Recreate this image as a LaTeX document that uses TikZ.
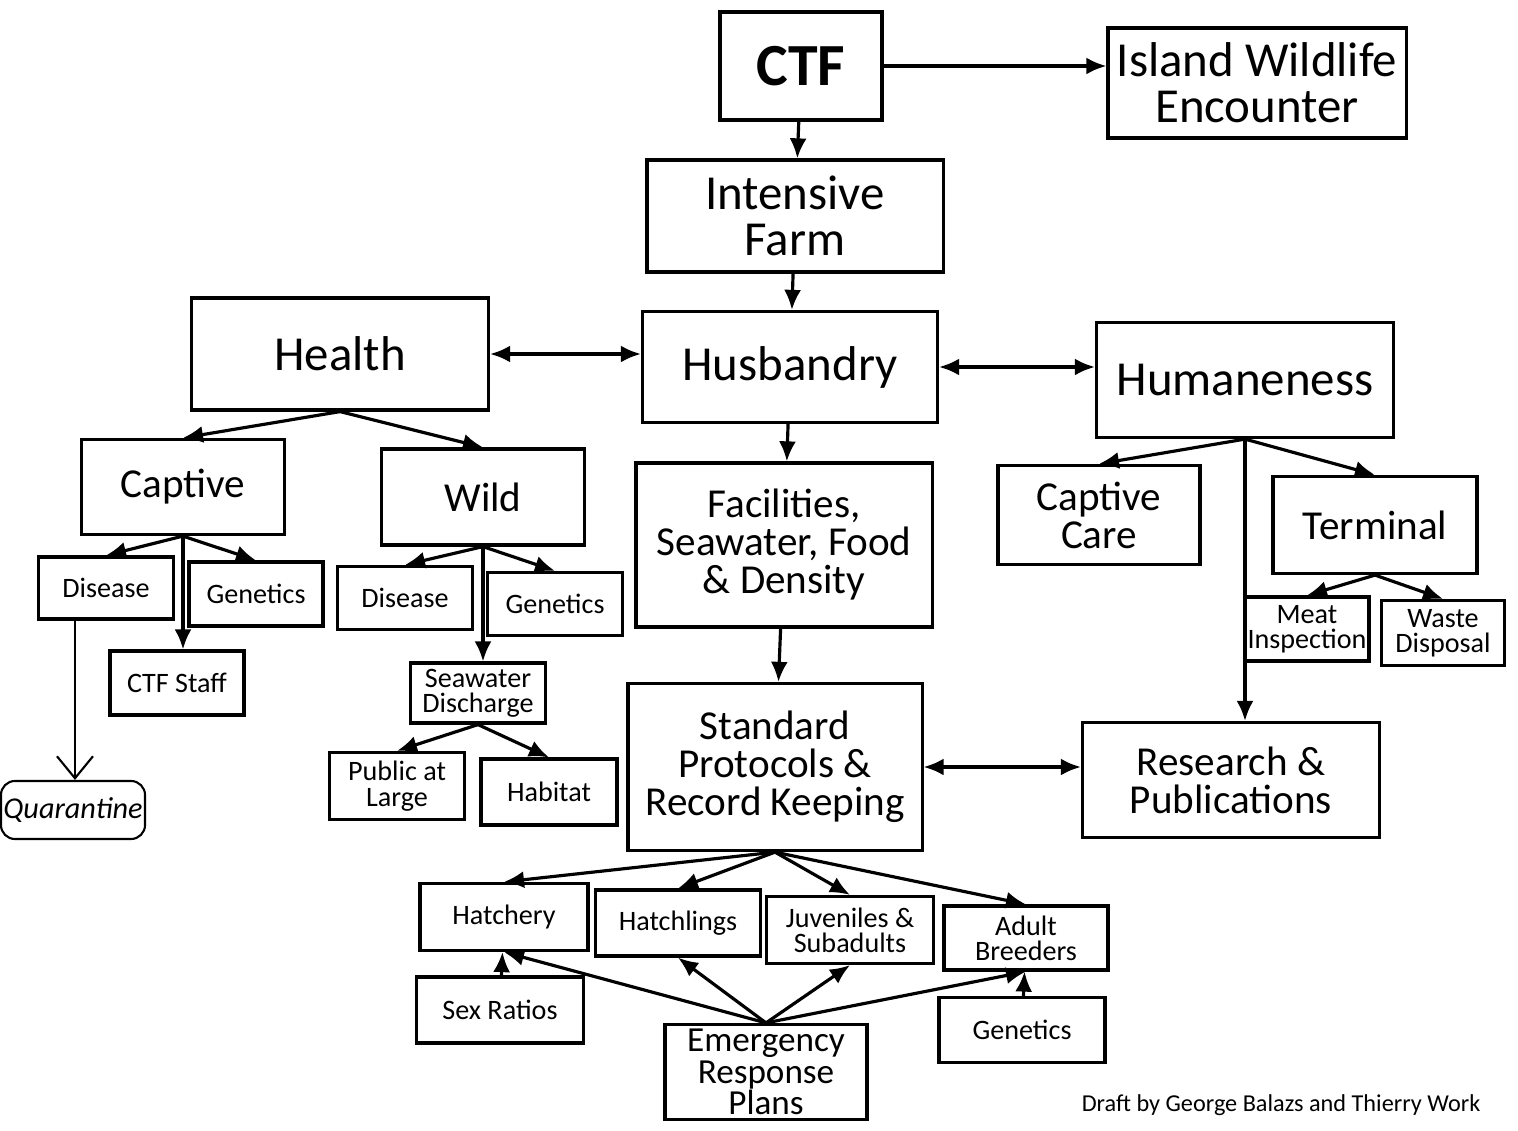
\documentclass[tikz,border=0pt]{standalone}
\usepackage{fontspec}
\setmainfont{Carlito}
\usetikzlibrary{shapes,arrows,arrows.meta,positioning}

\tikzset{
  box/.style={draw, line width=0.9pt, align=center, inner sep=0pt},
  bigtxt/.style={box, font=\fontsize{13.9}{13}\selectfont},
  midtxt/.style={box, font=\fontsize{11.7}{10.8}\selectfont},
  smalltxt/.style={box, font=\fontsize{8}{7.2}\selectfont},
  link/.style={->, line width=0.9pt},
  both/.style={<->, line width=0.9pt}
}

\begin{document}
\begin{tikzpicture}[x=0.01cm, y=-0.01cm, >={Latex[length=2mm, width=1.7mm]}]
\useasboundingbox (0,0) rectangle (1518,1131);
\fill[white] (0,0) rectangle (1518,1131);

% top of the chart
\node[box, font=\fontsize{17}{17}\selectfont\bfseries, minimum width=16.2mm, minimum height=10.8mm] (ctf) at (801,66) {CTF};
\node[bigtxt, minimum width=29.8mm, minimum height=11mm] (island) at (1257,83) {Island Wildlife\\Encounter};
\node[bigtxt, minimum width=29.6mm, minimum height=11.2mm] (farm) at (795,216) {Intensive\\Farm};
\node[bigtxt, minimum width=29.5mm, minimum height=11.1mm] (husbandry) at (790,367) {Husbandry};
\node[bigtxt, minimum width=29.7mm, minimum height=11.2mm] (health) at (340,354) {Health};
\node[bigtxt, minimum width=29.7mm, minimum height=11.5mm] (humane) at (1245,380) {Humaneness};

% health branch
\node[midtxt, minimum width=20.3mm, minimum height=9.5mm] (captive) at (183,487) {Captive};
\node[midtxt, minimum width=20.3mm, minimum height=9.6mm] (wild) at (483,497) {Wild};
\node[smalltxt, minimum width=13.5mm, minimum height=6.2mm] (disease1) at (106,588) {Disease};
\node[smalltxt, minimum width=13.4mm, minimum height=6.4mm] (genetics1) at (256,594) {Genetics};
\node[smalltxt, minimum width=13.4mm, minimum height=6.4mm] (ctfstaff) at (177,683) {CTF Staff};
\node[smalltxt, minimum width=13.5mm, minimum height=6.3mm] (disease2) at (405,598) {Disease};
\node[smalltxt, minimum width=13.5mm, minimum height=6.3mm] (genetics2) at (555,604) {Genetics};
\node[smalltxt, minimum width=13.5mm, minimum height=6mm] (seawater) at (478,693) {Seawater\\Discharge};
\node[smalltxt, minimum width=13.5mm, minimum height=6.7mm] (public) at (397,786) {Public at\\Large};
\node[smalltxt, minimum width=13.6mm, minimum height=6.6mm] (habitat) at (549,792) {Habitat};
\node[draw, rounded corners=4pt, line width=0.6pt, inner sep=0pt, font=\fontsize{8.6}{8.6}\selectfont\itshape, minimum width=14.4mm, minimum height=5.8mm] (quarantine) at (73,810) {Quarantine};

% husbandry branch
\node[midtxt, minimum width=29.6mm, minimum height=16.4mm] (facilities) at (784,545) {Facilities,\\Seawater, Food\\\& Density};
\node[midtxt, minimum width=29.4mm, minimum height=16.7mm] (standard) at (775,767) {Standard\\Protocols \&\\Record Keeping};
\node[smalltxt, minimum width=16.8mm, minimum height=6.7mm] (hatchery) at (504,917) {Hatchery};
\node[smalltxt, minimum width=16.5mm, minimum height=6.6mm] (hatchlings) at (678,923) {Hatchlings};
\node[smalltxt, minimum width=16.7mm, minimum height=6.7mm] (juveniles) at (850,930) {Juveniles \&\\Subadults};
\node[smalltxt, minimum width=16.4mm, minimum height=6.4mm] (adult) at (1026,938) {Adult\\Breeders};
\node[smalltxt, minimum width=16.7mm, minimum height=6.6mm] (sexratios) at (500,1010) {Sex Ratios};
\node[midtxt, font=\fontsize{10}{9}\selectfont, minimum width=20.2mm, minimum height=9.5mm] (emergency) at (766,1072) {Emergency\\Response\\Plans};
\node[smalltxt, minimum width=16.6mm, minimum height=6.5mm] (genetics3) at (1022,1030) {Genetics};

% humaneness branch
\node[midtxt, minimum width=20.2mm, minimum height=9.9mm] (captivecare) at (1099,515) {Captive\\Care};
\node[midtxt, minimum width=20.4mm, minimum height=9.7mm] (terminal) at (1375,525) {Terminal};
\node[smalltxt, minimum width=12.4mm, minimum height=6.4mm] (meat) at (1307,629) {Meat\\Inspection};
\node[smalltxt, minimum width=12.3mm, minimum height=6.5mm] (waste) at (1443,633) {Waste\\Disposal};
\node[midtxt, minimum width=29.7mm, minimum height=11.5mm] (research) at (1231,780) {Research \&\\Publications};

\node[font=\fontsize{6.9}{6.9}\selectfont] (draft) at (1281,1105) {Draft by George Balazs and Thierry Work};

% connectors
\draw[link] (ctf.east) -- (island.west |- ctf.east);
\draw[link] (ctf) -- (farm);
\draw[link] (farm) -- (husbandry);
\draw[both] (health.east) -- (husbandry.west |- health.east);
\draw[both] (husbandry.east) -- (humane.west |- husbandry.east);

\draw[link] (health.south) -- (captive.north);
\draw[link] (health.south) -- (wild.north);
\draw[link] (captive.south) -- (disease1.north);
\draw[link] (captive.south) -- (genetics1.north);
\draw[link] (captive.south) -- (captive.south |- ctfstaff.north);
\draw[link] (wild.south) -- (disease2.north);
\draw[link] (wild.south) -- (genetics2.north);
\draw[link] (wild.south) -- (wild.south |- seawater.north);
\draw[link] (seawater.south) -- (public.north);
\draw[link] (seawater.south) -- (habitat.north);
\draw[line width=0.6pt, -{Straight Barb[length=2.2mm, width=3.6mm]}] ([xshift=-3.1mm]disease1.south) -- ([xshift=-3.1mm]disease1.south |- quarantine.north);

\draw[link] (husbandry) -- (facilities);
\draw[link] (facilities) -- (standard);
\draw[both] (standard.east) -- (research.west |- standard.east);
\draw[link] (standard.south) -- (hatchery.north);
\draw[link] (standard.south) -- (hatchlings.north);
\draw[link] (standard.south) -- (juveniles.north);
\draw[link] (standard.south) -- (adult.north);
\draw[link] (sexratios) -- (hatchery);
\draw[link] (genetics3) -- (adult);
\draw[link] (emergency.north) -- (hatchery.south);
\draw[link] (emergency.north) -- (hatchlings.south);
\draw[link] (emergency.north) -- (juveniles.south);
\draw[link] (emergency.north) -- (adult.south);

\draw[link] (humane.south) -- (captivecare.north);
\draw[link] (humane.south) -- (terminal.north);
\draw[link] (humane.south) -- (humane.south |- research.north);
\draw[link] (terminal.south) -- (meat.north);
\draw[link] (terminal.south) -- (waste.north);
\end{tikzpicture}
\end{document}
